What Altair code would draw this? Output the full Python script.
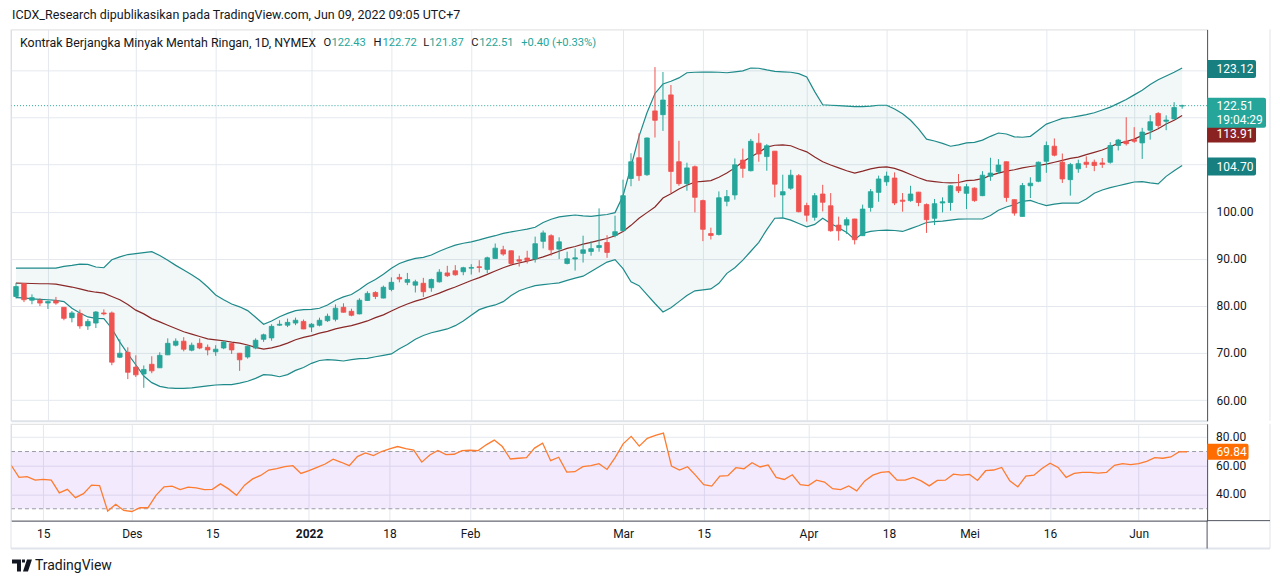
import altair as alt
import pandas as pd

# ---------------- data ----------------
opens = [82.0, 84.7, 81.2, 81.2, 80.6, 81.1, 79.7, 77.5, 78.4, 75.75,
         76.35, 78.5, 78.5, 69.1, 70.15, 67.0, 65.55, 67.6, 66.85, 69.6,
         71.65, 72.5, 70.6, 72.05, 71.2, 70.25, 71.05, 72.0, 69.95, 69.15,
         71.05, 72.9, 73.2, 75.9, 75.9, 76.35, 76.7, 75.5, 75.9, 76.85,
         77.15, 79.7, 78.85, 78.3, 81.15, 82.85, 81.65, 83.5, 86.05, 85.0,
         84.4, 84.8, 83.85, 85.1, 87.0, 87.45, 87.25, 88.0, 88.3, 87.75,
         90.05, 91.9, 91.7, 89.8, 90.15, 89.95, 93.7, 94.9, 92.05, 89.0,
         89.95, 91.15, 91.55, 92.4, 93.45, 94.95, 95.95, 107.05, 111.45, 107.85,
         121.4, 120.6, 124.8, 110.6, 105.95, 109.55, 102.35, 95.35, 95.15, 102.2,
         103.55, 110.95, 108.7, 114.55, 111.7, 112.85, 103.55, 105.0, 107.65, 101.3,
         98.8, 103.75, 101.25, 97.15, 97.15, 98.45, 94.9, 100.9, 104.1, 106.35,
         107.15, 102.45, 102.35, 104.15, 101.5, 98.6, 101.85, 101.95, 105.3, 103.9,
         105.0, 103.4, 107.5, 108.5, 110.6, 102.55, 99.0, 105.5, 106.45, 110.7,
         113.9, 110.5, 106.8, 109.1, 110.5, 110.5, 110.35, 110.5, 114.05, 114.95,
         115.3, 114.6, 117.3, 120.85, 119.2, 119.7, 122.43]
highs = [84.9, 84.85, 82.45, 81.6, 81.15, 81.9, 79.75, 78.9, 79.2, 77.2,
         78.9, 79.25, 78.8, 72.9, 71.2, 69.5, 67.35, 69.3, 70.15, 73.1,
         73.1, 73.35, 72.2, 73.1, 71.8, 71.65, 72.7, 72.35, 70.0, 71.65,
         73.1, 74.1, 76.1, 76.95, 77.3, 77.5, 77.1, 76.35, 77.5, 78.35,
         80.3, 80.55, 79.4, 81.6, 83.1, 83.1, 84.3, 86.05, 86.8, 87.0,
         85.55, 85.95, 85.8, 87.8, 88.5, 88.65, 88.3, 88.85, 89.7, 90.45,
         93.25, 92.75, 91.75, 90.65, 91.7, 94.7, 96.0, 95.2, 94.55, 91.5,
         92.2, 94.9, 93.7, 100.7, 95.0, 99.15, 106.8, 112.4, 116.65, 115.75,
         130.7, 129.65, 126.9, 115.05, 110.4, 109.8, 102.55, 96.6, 104.3, 104.6,
         111.3, 113.4, 115.45, 116.65, 114.35, 112.9, 107.85, 108.9, 108.0, 101.9,
         103.95, 105.7, 103.95, 98.95, 98.8, 98.5, 101.5, 104.8, 107.65, 108.5,
         108.35, 103.95, 105.5, 104.2, 101.75, 102.7, 103.05, 105.65, 108.0, 105.9,
         105.15, 108.6, 111.45, 111.15, 110.65, 102.6, 106.1, 107.3, 110.65, 114.9,
         115.55, 112.35, 110.35, 111.05, 111.75, 111.05, 111.4, 114.75, 115.45, 120.05,
         117.95, 117.8, 120.5, 121.15, 120.45, 123.25, 122.72]
lows = [81.6, 80.8, 80.35, 79.95, 79.35, 80.25, 76.95, 76.5, 75.15, 74.9,
        75.3, 78.0, 67.4, 68.9, 64.45, 64.9, 62.6, 65.7, 66.8, 69.55,
        71.4, 70.35, 70.35, 70.8, 69.5, 69.4, 70.8, 69.8, 66.2, 68.8,
        70.8, 72.35, 72.6, 75.75, 75.5, 75.9, 75.05, 74.45, 75.65, 76.6,
        76.7, 78.6, 77.8, 78.2, 81.1, 81.45, 81.6, 83.1, 85.0, 84.4,
        82.85, 81.9, 83.0, 84.95, 86.15, 86.4, 86.5, 86.65, 87.1, 86.95,
        90.0, 90.65, 88.5, 88.35, 89.0, 89.2, 92.2, 90.65, 89.95, 88.8,
        87.5, 89.2, 90.65, 91.5, 90.2, 94.55, 95.9, 105.4, 106.55, 107.6,
        115.75, 117.15, 103.95, 105.5, 104.45, 99.85, 93.75, 94.1, 94.95, 101.15,
        102.55, 107.2, 108.55, 110.6, 108.7, 103.05, 98.65, 104.65, 99.85, 97.9,
        98.1, 100.05, 95.75, 93.85, 95.25, 93.05, 94.85, 100.0, 102.1, 105.5,
        101.4, 100.0, 102.1, 101.15, 95.5, 97.15, 99.85, 100.2, 103.95, 100.55,
        102.1, 103.3, 106.55, 108.0, 102.1, 99.15, 99.0, 102.9, 106.25, 108.25,
        111.75, 106.1, 103.4, 108.25, 109.3, 108.6, 109.3, 110.2, 113.0, 114.05,
        114.6, 111.2, 115.3, 117.8, 117.3, 119.55, 121.87]
closes = [84.1, 81.3, 81.75, 80.6, 80.95, 80.6, 77.35, 78.5, 75.75, 76.7,
          78.7, 78.3, 68.05, 69.95, 65.9, 65.35, 66.5, 66.2, 69.5, 72.05,
          72.5, 70.8, 71.65, 71.05, 70.65, 70.8, 72.35, 70.65, 68.55, 71.45,
          72.7, 73.85, 75.65, 76.1, 76.5, 76.95, 75.1, 76.1, 76.95, 77.8,
          79.5, 78.65, 78.0, 81.2, 82.65, 82.0, 83.95, 85.0, 85.7, 85.6,
          85.1, 83.0, 85.6, 87.15, 86.4, 86.6, 88.1, 88.15, 88.15, 90.2,
          92.25, 91.0, 89.0, 89.5, 89.65, 93.2, 95.5, 91.9, 93.6, 90.0,
          90.2, 91.9, 92.15, 92.8, 91.35, 95.75, 103.4, 110.6, 107.65, 115.65,
          119.4, 123.7, 108.55, 105.95, 109.3, 103.05, 96.25, 94.95, 102.95, 103.2,
          109.95, 109.2, 114.95, 112.25, 114.0, 105.85, 104.25, 107.75, 100.0, 99.25,
          103.4, 102.0, 95.95, 95.95, 98.3, 94.05, 100.55, 104.25, 106.95, 107.55,
          101.85, 102.2, 103.75, 101.95, 98.3, 101.7, 102.1, 105.5, 104.45, 105.3,
          102.35, 107.75, 108.2, 109.9, 103.0, 99.7, 105.55, 106.05, 110.5, 114.05,
          112.0, 106.95, 110.0, 110.2, 110.05, 109.8, 110.05, 114.05, 115.2, 114.45,
          114.95, 116.9, 119.1, 118.3, 119.45, 122.11, 122.51]

bb_upper = [88.0, 88.0, 88.0, 88.0, 88.0, 88.0, 88.4, 88.6, 88.85, 88.8,
            88.25, 88.1, 89.8, 90.4, 90.9, 91.1, 91.3, 91.5, 90.7, 89.7,
            88.6, 87.6, 86.6, 85.5, 84.0, 82.3, 81.3, 80.4, 79.8, 79.0,
            77.6, 76.1, 76.8, 77.7, 78.4, 79.0, 79.2, 79.27, 79.5, 80.2,
            81.2, 81.9, 82.4, 83.5, 84.7, 85.6, 86.7, 88.0, 89.0, 89.6,
            90.1, 90.3, 90.8, 91.6, 92.3, 92.9, 93.3, 93.6, 94.0, 94.5,
            94.9, 95.4, 95.7, 96.0, 96.3, 96.7, 97.7, 98.4, 98.9, 99.1,
            99.3, 99.1, 99.0, 99.2, 99.4, 99.8, 103.4, 109.6, 116.0, 121.0,
            125.1, 127.1, 127.7, 128.4, 129.5, 129.6, 129.65, 129.65, 129.6, 129.5,
            129.7, 129.9, 130.5, 130.45, 130.1, 129.8, 129.7, 129.6, 129.3, 128.6,
            125.5, 122.7, 122.6, 122.5, 122.4, 122.3, 122.3, 122.4, 122.6, 122.6,
            121.8, 120.8, 119.4, 117.6, 115.4, 115.0, 114.5, 113.9, 114.2, 114.6,
            114.7, 115.2, 116.0, 116.7, 116.5, 115.9, 115.8, 116.0, 117.3, 118.6,
            119.2, 119.8, 120.0, 120.3, 120.6, 121.0, 121.6, 122.2, 123.0, 123.8,
            124.8, 125.8, 127.0, 128.0, 128.8, 129.6, 130.5]
bb_basis = [84.85, 84.8, 84.75, 84.7, 84.7, 84.6, 84.3, 84.0, 83.6, 83.2,
            82.9, 82.7, 82.0, 81.3, 80.3, 79.1, 78.3, 77.3, 76.6, 75.9,
            75.2, 74.5, 74.0, 73.5, 73.0, 72.8, 72.6, 72.3, 72.1, 71.7,
            71.2, 70.8, 71.1, 71.5, 72.1, 72.8, 73.3, 73.7, 74.2, 74.6,
            75.1, 75.5, 75.8, 76.3, 76.8, 77.5, 78.1, 78.9, 79.7, 80.4,
            81.0, 81.5, 82.1, 82.7, 83.4, 84.0, 84.7, 85.4, 86.0, 86.7,
            87.4, 88.1, 88.7, 89.1, 89.5, 89.9, 90.4, 91.0, 91.6, 92.2,
            92.6, 93.1, 93.5, 93.9, 94.3, 94.9, 95.8, 97.1, 98.6, 99.8,
            101.0, 102.9, 103.8, 104.8, 105.6, 106.3, 106.45, 106.6, 107.3, 108.2,
            109.3, 110.6, 111.6, 112.6, 113.7, 114.1, 114.2, 114.0, 113.3, 112.7,
            111.6, 110.6, 109.9, 109.3, 108.7, 108.2, 108.6, 109.1, 109.4, 109.5,
            109.2, 108.6, 107.9, 107.2, 106.6, 106.4, 106.2, 106.1, 106.2, 106.6,
            106.7, 107.0, 107.7, 108.2, 108.6, 108.9, 109.3, 109.6, 109.8, 110.1,
            110.5, 110.9, 111.3, 111.6, 112.1, 112.6, 113.1, 113.8, 114.5, 114.9,
            115.4, 116.2, 116.8, 117.6, 118.6, 119.4, 120.4]
bb_lower = [81.75, 81.7, 81.5, 81.4, 81.3, 81.15, 80.9, 79.5, 78.5, 77.65,
            77.35, 77.3, 75.2, 72.3, 69.8, 67.5, 65.1, 63.7, 62.9, 62.6,
            62.5, 62.5, 62.6, 62.8, 63.0, 63.2, 63.3, 63.3, 63.6, 64.0,
            64.6, 65.4, 65.3, 64.95, 65.4, 66.3, 66.9, 67.8, 68.4, 68.6,
            68.5, 68.3, 68.6, 68.8, 68.85, 69.2, 69.5, 69.8, 70.9, 71.8,
            72.9, 73.7, 74.3, 74.7, 75.1, 75.8, 76.8, 78.0, 79.2, 79.8,
            80.2, 80.9, 82.2, 83.2, 83.8, 84.3, 84.5, 84.7, 84.9, 85.4,
            85.9, 86.3, 87.3, 88.3, 89.3, 89.8, 87.9, 85.1, 84.3, 82.4,
            80.5, 78.7, 79.6, 80.9, 82.2, 83.2, 83.4, 83.6, 84.8, 86.9,
            88.1, 89.7, 91.6, 93.5, 96.2, 98.6, 98.7, 98.2, 97.5, 96.8,
            97.3, 98.6, 97.5, 96.6, 95.6, 94.1, 95.4, 95.8, 96.0, 96.1,
            96.0, 95.8, 96.4, 97.0, 97.7, 97.9, 98.0, 98.2, 98.4, 98.45,
            98.45, 98.45, 99.2, 100.3, 101.0, 101.5, 102.2, 102.4, 101.8, 101.3,
            101.6, 101.8, 101.84, 101.8, 102.7, 103.9, 104.6, 105.1, 105.5, 105.9,
            106.3, 106.4, 106.1, 105.9, 107.5, 108.7, 109.8]
rsi = [60.6, 51.9, 52.4, 50.0, 50.5, 50.0, 41.1, 43.6, 37.8, 40.6,
       46.5, 46.2, 28.4, 33.1, 28.8, 28.1, 30.7, 30.7, 39.4, 45.3,
       45.8, 43.4, 45.1, 44.6, 43.4, 43.6, 47.4, 43.9, 39.4, 46.5,
       50.9, 53.3, 57.1, 58.0, 59.4, 60.1, 54.7, 56.6, 58.9, 61.3,
       64.6, 62.5, 60.1, 66.5, 69.1, 67.2, 70.0, 71.9, 73.5, 72.1,
       71.0, 62.6, 67.6, 70.7, 67.9, 68.1, 70.7, 70.9, 70.7, 74.7,
       78.0, 73.5, 64.8, 65.3, 65.8, 72.4, 75.9, 63.6, 66.0, 55.6,
       55.9, 59.4, 60.1, 61.5, 57.5, 65.8, 75.4, 80.6, 73.8, 79.2,
       81.3, 82.9, 59.9, 57.1, 59.4, 53.3, 46.9, 45.8, 52.8, 53.1,
       58.7, 58.0, 62.2, 59.2, 60.6, 51.9, 50.5, 53.8, 46.9, 46.2,
       50.0, 48.7, 44.0, 43.4, 46.0, 42.5, 49.5, 53.5, 55.4, 55.9,
       50.0, 50.0, 51.9, 49.5, 46.0, 49.8, 50.0, 54.2, 53.5, 54.0,
       49.8, 56.6, 57.1, 58.9, 49.5, 45.3, 52.8, 53.5, 58.2, 61.8,
       58.9, 51.9, 54.7, 55.4, 55.4, 54.9, 55.4, 60.4, 61.5, 60.8,
       61.5, 63.2, 65.8, 65.3, 66.2, 69.8, 69.84]

tick_idx = [4, 15, 25, 37, 47, 57, 76, 86, 99, 109, 119, 129, 140]
tick_lbl = ["15", "Des", "15", "2022", "18", "Feb", "Mar", "15", "Apr", "18", "Mei", "16", "Jun"]

price_ticks = [60, 70, 80, 90, 100, 110, 120, 130]
rsi_ticks = [40, 60, 80]

band_label_text = ["123.12", "113.91", "104.70"]
price_label_text = ["122.51", "19:04:29"]
rsi_label_text = "69.84"

header_text = "ICDX_Research dipublikasikan pada TradingView.com, Jun 09, 2022 09:05 UTC+7"
legend_parts = ["Kontrak Berjangka Minyak Mentah Ringan, 1D, NYMEX", "O", "122.43", "H", "122.72",
                "L", "121.87", "C", "122.51", "+0.40 (+0.33%)"]

# ---------------- layout / style ----------------
W, H1, H2 = 1198, 392, 97
FONT = "Roboto"
TXT = "#131722"
GRID = "#e4e8ee"
AXLINE = "#50535e"
UP, DOWN = "#26a69a", "#ef5350"
BAND = "#1f8a8a"
BASIS = "#8a2727"

legend_x = [9, 313, 321, 363, 372, 413, 419, 461, 469, 511]
legend_col = [TXT, TXT, UP, TXT, UP, TXT, UP, TXT, UP, UP]
legend_fs = [12.4, 11.2, 11.2, 11.2, 11.2, 11.2, 11.2, 11.2, 11.2, 11.2]

n = len(closes)
df = pd.DataFrame({
    "i": list(range(n)), "o": opens, "h": highs, "l": lows, "c": closes,
    "up": bb_upper, "mid": bb_basis, "lo": bb_lower, "rsi": rsi,
})
df["dir"] = ["up" if c >= o else "down" for o, c in zip(opens, closes)]

xscale = alt.Scale(domain=[0, 148.5], nice=False, zero=False)
yscale = alt.Scale(domain=[55.6, 138.7], nice=False, zero=False)
rscale = alt.Scale(domain=[21.7, 89.4], nice=False, zero=False)
cscale = alt.Scale(domain=["up", "down"], range=[UP, DOWN])

x_axis_main = alt.Axis(values=tick_idx, grid=True, gridColor=GRID, labels=False, ticks=False,
                       domain=True, domainColor="#dfe3ea", domainWidth=2, title=None)
y_axis_main = alt.Axis(orient="right", values=price_ticks,
                       labelExpr="datum.value > 100 ? '' : format(datum.value, '.2f')",
                       grid=True, gridColor=GRID, ticks=False, domain=True, domainColor=AXLINE,
                       labelPadding=9, labelFont=FONT, labelFontSize=12, labelColor=TXT,
                       labelOverlap=False, title=None)

idx_s = ",".join(str(v) for v in tick_idx)
lbl_s = ",".join("'" + s + "'" for s in tick_lbl)
x_axis_rsi = alt.Axis(values=tick_idx, labelExpr=f"[{lbl_s}][indexof([{idx_s}], datum.value)]",
                      grid=True, gridColor=GRID, ticks=False, domain=True, domainColor=AXLINE,
                      labelPadding=8, labelFont=FONT, labelFontSize=12, labelColor=TXT,
                      labelFlush=False, labelOverlap=False, title=None,
                      labelFontWeight={"condition": {"test": "datum.value === 37", "value": "bold"},
                                       "value": "normal"})
y_axis_rsi = alt.Axis(orient="right", values=rsi_ticks, labels=False,
                      grid=True, gridColor=GRID, ticks=False, domain=True, domainColor=AXLINE,
                      title=None)

X = alt.X("i:Q", scale=xscale, axis=x_axis_main)
def Y(f):
    return alt.Y(f, scale=yscale, axis=y_axis_main)

base = alt.Chart(df)

area = base.mark_area(color=BAND, opacity=0.06, clip=True).encode(x=X, y=Y("lo:Q"), y2="up:Q")
l_up = base.mark_line(color=BAND, strokeWidth=1.2, clip=True).encode(x=X, y=Y("up:Q"))
l_lo = base.mark_line(color=BAND, strokeWidth=1.2, clip=True).encode(x=X, y=Y("lo:Q"))
l_mid = base.mark_line(color=BASIS, strokeWidth=1.2, clip=True).encode(x=X, y=Y("mid:Q"))

price_line = alt.Chart(pd.DataFrame({"v": [closes[-1]]})).mark_rule(
    color=UP, strokeDash=[1, 2], strokeWidth=1).encode(
    y=Y("v:Q"), x=alt.value(0), x2=alt.value(W))

wicks = base.mark_rule(strokeWidth=1, clip=True).encode(
    x=X, y=Y("l:Q"), y2="h:Q", color=alt.Color("dir:N", scale=cscale, legend=None))
bodies = base.mark_bar(width=4.6, strokeWidth=0.8, clip=True).encode(
    x=X, y=Y("o:Q"), y2="c:Q",
    color=alt.Color("dir:N", scale=cscale, legend=None),
    stroke=alt.Stroke("dir:N", scale=cscale, legend=None))

BOX1 = "M0,-0.9L4.7,-0.9Q4.9,-0.9 4.9,-0.7L4.9,0.7Q4.9,0.9 4.7,0.9L0,0.9Z"
BOXP = "M0,-0.8L5.7,-0.8Q5.9,-0.8 5.9,-0.6L5.9,2.0Q5.9,2.2 5.7,2.2L0,2.2Z"
BOXR = "M0,-0.8L3.95,-0.8Q4.15,-0.8 4.15,-0.6L4.15,0.6Q4.15,0.8 3.95,0.8L0,0.8Z"


def side_label(yval, txt, color, shape, ych, dy=0):
    d = pd.DataFrame({"v": [yval], "t": [txt]})
    box = alt.Chart(d).mark_point(shape=shape, size=400, filled=True, color=color,
                                  opacity=1, yOffset=dy).encode(x=alt.value(W), y=ych)
    tx = alt.Chart(d).mark_text(align="left", baseline="middle", color="white", font=FONT,
                                fontSize=12, yOffset=dy).encode(
        x=alt.value(W + 9.5), y=ych, text="t:N")
    return [box, tx]


labels = []
labels += side_label(bb_upper[-1], band_label_text[0], "#177f80", BOX1, Y("v:Q"), 1)
labels += side_label(bb_lower[-1], band_label_text[2], "#177f80", BOX1, Y("v:Q"), 1)
labels += side_label(bb_basis[-1], band_label_text[1], "#8b2222", BOX1, Y("v:Q"), 18)
labels += side_label(closes[-1], price_label_text[0], UP, BOXP, Y("v:Q"), 0)
d2 = pd.DataFrame({"v": [closes[-1]], "t": [price_label_text[1]]})
labels.append(alt.Chart(d2).mark_text(align="left", baseline="middle", color="white", font=FONT,
                                      fontSize=12, yOffset=14).encode(
    x=alt.value(W + 9.5), y=Y("v:Q"), text="t:N"))

hdr_df = pd.DataFrame({"t": [header_text]})
header = alt.Chart(hdr_df).mark_text(align="left", baseline="middle", font=FONT, fontSize=12.5,
                                     color=TXT).encode(x=alt.value(1), y=alt.value(-14), text="t:N")
legend_layers = []
for t, px, col, fs in zip(legend_parts, legend_x, legend_col, legend_fs):
    legend_layers.append(alt.Chart(pd.DataFrame({"t": [t]})).mark_text(
        align="left", baseline="middle", font=FONT, fontSize=fs, color=col).encode(
        x=alt.value(px), y=alt.value(14), text="t:N"))

frame_main = alt.Chart(pd.DataFrame({"a": [0]})).mark_rule(color="#e0e3eb", strokeWidth=1).encode(
    x=alt.value(0), y=alt.value(0), y2=alt.value(H1))
frame_main_r = alt.Chart(pd.DataFrame({"a": [0]})).mark_rule(color="#e0e3eb", strokeWidth=1).encode(
    x=alt.value(W + 63), y=alt.value(0), y2=alt.value(H1))

main = alt.layer(area, l_up, l_lo, l_mid, price_line, wicks, bodies, *labels, header,
                 *legend_layers, frame_main, frame_main_r).properties(width=W, height=H1)

# ---------------- RSI pane ----------------
XR = alt.X("i:Q", scale=xscale, axis=x_axis_rsi)
def YR(f):
    return alt.Y(f, scale=rscale, axis=y_axis_rsi)

band_df = pd.DataFrame({"a": [70], "b": [30]})
rsi_band = alt.Chart(band_df).mark_rect(color="#8e44f0", opacity=0.11).encode(
    x=alt.value(0), x2=alt.value(W), y=YR("a:Q"), y2="b:Q")
dash_df = pd.DataFrame({"v": [70, 30]})
rsi_dash = alt.Chart(dash_df).mark_rule(color="#9a9ca5", strokeDash=[4, 3], strokeWidth=1).encode(
    x=alt.value(0), x2=alt.value(W), y=YR("v:Q"))
rsi_line = base.mark_line(color="#ff7b2e", strokeWidth=1.3, clip=True).encode(x=XR, y=YR("rsi:Q"))
tick_df = pd.DataFrame({"v": rsi_ticks, "t": [f"{v:.2f}" for v in rsi_ticks]})
rsi_axis_txt = alt.Chart(tick_df).mark_text(align="left", baseline="middle", font=FONT,
                                            fontSize=12, color=TXT).encode(
    x=alt.value(W + 9), y=YR("v:Q"), text="t:N")
rsi_lab = side_label(rsi[-1], rsi_label_text, "#ff6d00", BOXR, YR("v:Q"), 0)

LOGO = ("M-1,-0.6L-0.1,-0.6L-0.1,0.6L-0.5,0.6L-0.5,-0.2L-1,-0.2Z"
        "M0.0,-0.6L0.3,-0.6L0.3,-0.3L0.0,-0.3Z"
        "M0.5,-0.6L1,-0.6L0.6,0.6L0.1,0.6Z")
one = pd.DataFrame({"t": ["TradingView"]})
logo = alt.Chart(one).mark_point(shape=LOGO, size=400, filled=True, color=TXT, opacity=1).encode(
    x=alt.value(11), y=alt.value(H2 + 45))
logo_txt = alt.Chart(one).mark_text(align="left", baseline="middle", font=FONT, fontSize=14,
                                    color=TXT).encode(x=alt.value(24), y=alt.value(H2 + 45), text="t:N")
fr_left = alt.Chart(one).mark_rule(color="#e0e3eb").encode(
    x=alt.value(0), y=alt.value(0), y2=alt.value(H2 + 28))
fr_right = alt.Chart(one).mark_rule(color="#e0e3eb").encode(
    x=alt.value(W + 63), y=alt.value(0), y2=alt.value(H2 + 28))
fr_bot = alt.Chart(one).mark_rule(color="#e0e3eb", strokeWidth=2).encode(
    x=alt.value(0), x2=alt.value(W + 63), y=alt.value(H2 + 28))
ax_ext = alt.Chart(one).mark_rule(color=AXLINE).encode(
    x=alt.value(W), x2=alt.value(W + 63), y=alt.value(H2))
ax_down = alt.Chart(one).mark_rule(color=AXLINE).encode(
    x=alt.value(W), y=alt.value(H2), y2=alt.value(H2 + 28))

rsi_chart = alt.layer(rsi_band, rsi_dash, rsi_line, rsi_axis_txt, *rsi_lab, logo, logo_txt,
                      fr_left, fr_right, fr_bot, ax_ext, ax_down).properties(width=W, height=H2)

chart = alt.vconcat(main, rsi_chart, spacing=1).properties(
    padding={"left": 1, "top": 0, "right": 0, "bottom": 0}
).configure_view(strokeWidth=0).configure(background="white")

chart.save("out.html", embed_options={"renderer": "svg", "actions": False})
